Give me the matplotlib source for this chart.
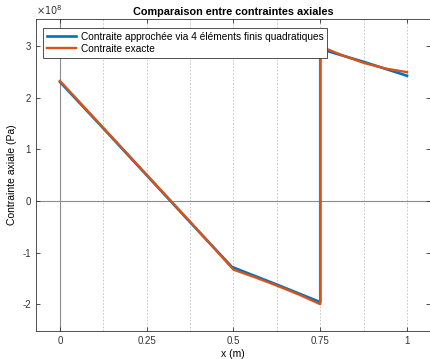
import matplotlib
matplotlib.use("Agg")
import matplotlib.pyplot as plt

plt.rcParams['font.family'] = ['Liberation Sans', 'DejaVu Sans']

# contrainte exacte (Pa)
x_exact = [0, 0.125, 0.25, 0.375, 0.5, 0.5625, 0.625, 0.6875, 0.75,
           0.75, 0.8125, 0.875, 0.9375, 1.0]
s_exact = [2.33e8, 1.42e8, 0.51e8, -0.40e8, -1.33e8, -1.48e8, -1.64e8, -1.81e8, -2.0e8,
           3.0e8, 2.83e8, 2.68e8, 2.57e8, 2.5e8]

# contrainte approchee, 4 elements quadratiques (valeurs aux noeuds)
x_ef = [0, 0.125, 0.25, 0.375, 0.5, 0.5, 0.625, 0.75, 0.75, 0.875, 1.0]
s_ef = [2.31e8, 1.41e8, 0.50e8, -0.41e8, -1.31e8, -1.29e8, -1.62e8, -1.96e8,
        2.95e8, 2.70e8, 2.43e8]

bleu = (0, 0.447, 0.741)
orange = (0.85, 0.325, 0.098)

fig = plt.figure(figsize=(4.31, 3.59), dpi=100)
ax = fig.add_axes([0.0835, 0.078, 0.914, 0.869])

ax.axhline(0, color='0.55', lw=0.8, zorder=1)
ax.axvline(0, color='0.55', lw=0.8, zorder=1)
for xv in [0.125, 0.25, 0.375, 0.5, 0.625, 0.75, 0.875, 1.0]:
    ax.axvline(xv, color='0.75', lw=0.6, ls=(0, (2, 2)), zorder=0)

ax.plot(x_ef, s_ef, color=bleu, lw=1.9, label='Contraite approchée via 4 éléments finis quadratiques')
ax.plot(x_exact, s_exact, color=orange, lw=1.7, label='Contraite exacte')

ax.set_xlim(-0.069, 1.066)
ax.set_ylim(-2.52e8, 3.53e8)
ax.set_xticks([0, 0.25, 0.5, 0.75, 1])
ax.set_xticklabels(['0', '0.25', '0.5', '0.75', '1'])
ax.set_yticks([-2e8, -1e8, 0, 1e8, 2e8, 3e8])
ax.set_yticklabels(['-2', '-1', '0', '1', '2', '3'])
ax.tick_params(direction='in', length=3, width=0.6, labelsize=7, colors='0.2',
               top=True, right=True)
for sp in ax.spines.values():
    sp.set_linewidth(0.6)
    sp.set_color('0.2')

ax.text(0.0, 1.005, r'$\times10^{8}$', transform=ax.transAxes, fontsize=7,
        color='0.2', ha='left', va='bottom')
ax.set_title('Comparaison entre contraintes axiales', fontsize=7.8, fontweight='bold', pad=3)
ax.set_xlabel('x (m)', fontsize=7.5, labelpad=2)
ax.set_ylabel('Contrainte axiale (Pa)', fontsize=7.5, labelpad=4)

leg = ax.legend(loc='upper left', bbox_to_anchor=(0.018, 0.97), fontsize=7.3,
                fancybox=False, edgecolor='0.2', framealpha=1, borderpad=0.35,
                handlelength=2.9, labelspacing=0.2, handletextpad=0.5, borderaxespad=0)
leg.get_frame().set_linewidth(0.6)

fig.savefig('out.png', dpi=100)
